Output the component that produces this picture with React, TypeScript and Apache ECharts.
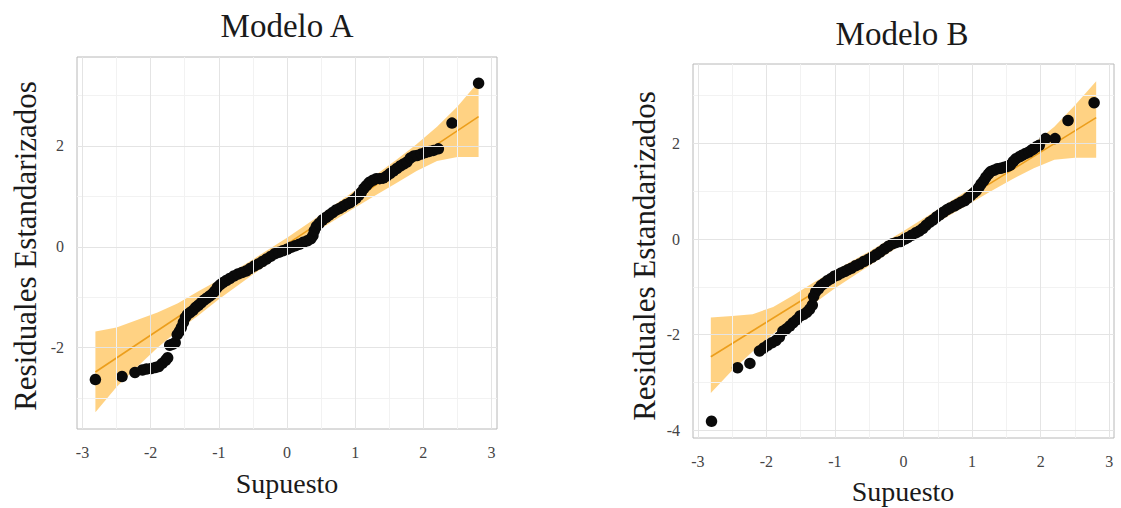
import { useEffect, useRef } from "react";
import * as echarts from "echarts";

// ---------- data ----------
const qqA: number[][] = [
  [-2.81, -2.63], [-2.42, -2.57], [-2.23, -2.49], [-2.12, -2.44], [-2.06, -2.42], [-1.99, -2.41],
  [-1.93, -2.39], [-1.88, -2.37], [-1.83, -2.31], [-1.78, -2.25], [-1.75, -2.2], [-1.72, -1.95],
  [-1.68, -1.93], [-1.64, -1.9], [-1.61, -1.74], [-1.58, -1.68], [-1.55, -1.6], [-1.52, -1.5],
  [-1.49, -1.4], [-1.46, -1.34], [-1.42, -1.3], [-1.38, -1.26], [-1.34, -1.2], [-1.3, -1.16],
  [-1.26, -1.11], [-1.22, -1.06], [-1.18, -1.02], [-1.14, -0.98], [-1.1, -0.94], [-1.06, -0.88],
  [-1.02, -0.8], [-0.98, -0.75], [-0.94, -0.71], [-0.89, -0.67], [-0.84, -0.63], [-0.78, -0.58],
  [-0.72, -0.54], [-0.66, -0.51], [-0.6, -0.48], [-0.54, -0.43], [-0.48, -0.38], [-0.42, -0.34],
  [-0.36, -0.29], [-0.3, -0.24], [-0.24, -0.19], [-0.18, -0.14], [-0.12, -0.11], [-0.06, -0.08],
  [0.0, -0.05], [0.06, -0.01], [0.12, 0.02], [0.18, 0.05], [0.24, 0.09], [0.3, 0.12],
  [0.35, 0.16], [0.38, 0.22], [0.4, 0.32], [0.43, 0.4], [0.47, 0.46], [0.52, 0.53],
  [0.57, 0.58], [0.62, 0.63], [0.67, 0.68], [0.72, 0.73], [0.77, 0.76], [0.82, 0.8],
  [0.87, 0.84], [0.92, 0.87], [0.97, 0.92], [1.01, 0.96], [1.05, 1.02], [1.09, 1.08],
  [1.13, 1.16], [1.17, 1.22], [1.21, 1.28], [1.26, 1.32], [1.31, 1.35], [1.36, 1.35],
  [1.41, 1.36], [1.46, 1.4], [1.51, 1.45], [1.56, 1.5], [1.61, 1.55], [1.66, 1.6],
  [1.71, 1.64], [1.76, 1.68], [1.81, 1.76], [1.86, 1.8], [1.91, 1.81], [1.97, 1.84],
  [2.03, 1.87], [2.09, 1.89], [2.15, 1.91], [2.22, 1.94], [2.42, 2.45], [2.81, 3.24],
];

const qqB: number[][] = [
  [-2.8, -3.81], [-2.42, -2.69], [-2.24, -2.6], [-2.1, -2.34], [-2.04, -2.28], [-1.98, -2.22],
  [-1.92, -2.17], [-1.86, -2.12], [-1.81, -2.05], [-1.76, -1.93], [-1.71, -1.88], [-1.66, -1.82],
  [-1.61, -1.75], [-1.56, -1.69], [-1.51, -1.61], [-1.46, -1.58], [-1.41, -1.53], [-1.37, -1.47],
  [-1.33, -1.38], [-1.31, -1.2], [-1.28, -1.1], [-1.24, -1.04], [-1.2, -0.97], [-1.16, -0.93],
  [-1.11, -0.87], [-1.06, -0.83], [-1.01, -0.78], [-0.96, -0.75], [-0.91, -0.71], [-0.86, -0.68],
  [-0.81, -0.64], [-0.76, -0.61], [-0.7, -0.56], [-0.64, -0.52], [-0.58, -0.47], [-0.52, -0.43],
  [-0.46, -0.38], [-0.4, -0.33], [-0.34, -0.27], [-0.28, -0.21], [-0.22, -0.15], [-0.16, -0.1],
  [-0.1, -0.07], [-0.04, -0.05], [0.02, 0.0], [0.06, 0.03], [0.12, 0.08], [0.18, 0.13],
  [0.23, 0.17], [0.28, 0.22], [0.33, 0.29], [0.38, 0.35], [0.43, 0.4], [0.48, 0.46],
  [0.53, 0.51], [0.58, 0.56], [0.63, 0.61], [0.68, 0.65], [0.74, 0.69], [0.79, 0.73],
  [0.84, 0.77], [0.89, 0.8], [0.94, 0.86], [0.98, 0.91], [1.02, 0.96], [1.06, 1.01],
  [1.1, 1.08], [1.13, 1.15], [1.17, 1.22], [1.2, 1.29], [1.24, 1.36], [1.27, 1.41],
  [1.32, 1.44], [1.37, 1.47], [1.42, 1.48], [1.47, 1.5], [1.52, 1.52], [1.56, 1.55],
  [1.6, 1.62], [1.64, 1.68], [1.69, 1.72], [1.73, 1.75], [1.78, 1.79], [1.83, 1.82],
  [1.87, 1.86], [1.9, 1.89], [1.94, 1.93], [1.98, 1.96], [2.07, 2.1], [2.21, 2.1],
  [2.4, 2.48], [2.78, 2.85],
];

const bandX = [-2.81, -2.5, -2.2, -1.9, -1.6, -1.3, -1.0, -0.5, 0, 0.5, 1.0, 1.3, 1.6, 1.9, 2.2, 2.5, 2.81];
const bandAUpper = [-1.68, -1.6, -1.45, -1.3, -1.12, -0.88, -0.66, -0.25, 0.18, 0.64, 1.12, 1.42, 1.72, 2.03, 2.38, 2.78, 3.27];
const bandALower = [-3.28, -2.78, -2.38, -2.0, -1.66, -1.36, -1.04, -0.55, -0.08, 0.36, 0.78, 1.02, 1.26, 1.5, 1.7, 1.78, 1.78];
const bandBUpper = [-1.64, -1.61, -1.57, -1.42, -1.17, -0.9, -0.66, -0.26, 0.17, 0.62, 1.08, 1.38, 1.68, 2.0, 2.35, 2.8, 3.3];
const bandBLower = [-3.22, -2.75, -2.35, -1.98, -1.64, -1.34, -1.03, -0.56, -0.09, 0.35, 0.77, 1.02, 1.26, 1.48, 1.66, 1.7, 1.7];

const lineA: number[][] = [[-2.81, -2.48], [2.81, 2.58]];
const lineB: number[][] = [[-2.81, -2.46], [2.81, 2.54]];

const xTicks = [-3, -2, -1, 0, 1, 2, 3];
const xMinor = [-2.5, -1.5, -0.5, 0.5, 1.5, 2.5];
const yTicksA = [-2, 0, 2];
const yMinorA = [-3, -1, 1, 3];
const yTicksB = [-4, -2, 0, 2];
const yMinorB = [-3, -1, 1, 3];

const titles = ["Modelo A", "Modelo B"];
const xTitle = "Supuesto";
const yTitle = "Residuales Estandarizados";

// ---------- styles ----------
const FONT = "'Liberation Serif', 'DejaVu Serif', serif";
const BAND_FILL = "rgba(255,183,55,0.62)";
const LINE_COLOR = "#EC9E1C";
const POINT_COLOR = "#0a0a0a";
const MAJOR = "#E4E4E4";
const MINOR = "#F2F2F2";
const BORDER = "#B8B8B8";
const TICKLABEL = "#444444";

function makeAxisX(gridIndex: number, min: number, max: number) {
  return {
    type: "value",
    gridIndex,
    min,
    max,
    axisLine: { show: false },
    axisTick: { show: true, length: 5, customValues: xTicks, lineStyle: { color: BORDER } },
    axisLabel: {
      customValues: xTicks,
      margin: 15,
      color: TICKLABEL,
      fontFamily: FONT,
      fontSize: 16,
      formatter: (v: number) => String(v),
    },
    splitLine: { show: false },
  };
}

function makeAxisY(gridIndex: number, min: number, max: number, ticks: number[]) {
  return {
    type: "value",
    gridIndex,
    min,
    max,
    axisLine: { show: false },
    axisTick: { show: true, length: 5, customValues: ticks, lineStyle: { color: BORDER } },
    axisLabel: {
      customValues: ticks,
      margin: 13,
      color: TICKLABEL,
      fontFamily: FONT,
      fontSize: 16,
      formatter: (v: number) => String(v),
    },
    splitLine: { show: false },
  };
}

function gridSeries(idx: number, yMinor: number[], yMajor: number[]) {
  const minorLines = [...xMinor.map((v) => ({ xAxis: v })), ...yMinor.map((v) => ({ yAxis: v }))];
  const majorLines = [...xTicks.map((v) => ({ xAxis: v })), ...yMajor.map((v) => ({ yAxis: v }))];
  return [
    {
      type: "line",
      xAxisIndex: idx,
      yAxisIndex: idx,
      data: [],
      silent: true,
      z: 0,
      markLine: {
        silent: true,
        symbol: ["none", "none"],
        label: { show: false },
        emphasis: { disabled: true },
        lineStyle: { color: MINOR, width: 1, type: "solid" },
        data: minorLines,
      },
    },
    {
      type: "line",
      xAxisIndex: idx,
      yAxisIndex: idx,
      data: [],
      silent: true,
      z: 0,
      markLine: {
        silent: true,
        symbol: ["none", "none"],
        label: { show: false },
        emphasis: { disabled: true },
        lineStyle: { color: MAJOR, width: 1, type: "solid" },
        data: majorLines,
      },
    },
  ];
}

function bandSeries(idx: number, lower: number[], upper: number[]) {
  return {
    type: "custom",
    xAxisIndex: idx,
    yAxisIndex: idx,
    silent: true,
    z: 1,
    data: bandX.map((x, i) => [x, lower[i], upper[i]]),
    encode: { x: 0, y: [1, 2] },
    renderItem: (params: any, api: any) => {
      if (params.dataIndex !== 0) return { type: "group", children: [] };
      const pts: number[][] = [];
      for (let i = 0; i < bandX.length; i++) pts.push(api.coord([bandX[i], upper[i]]));
      for (let i = bandX.length - 1; i >= 0; i--) pts.push(api.coord([bandX[i], lower[i]]));
      return { type: "polygon", shape: { points: pts }, style: { fill: BAND_FILL } };
    },
  };
}

function lineSeries(idx: number, data: number[][]) {
  return {
    type: "line",
    xAxisIndex: idx,
    yAxisIndex: idx,
    data,
    symbol: "none",
    silent: true,
    z: 2,
    lineStyle: { color: LINE_COLOR, width: 1.6 },
  };
}

function pointSeries(idx: number, data: number[][]) {
  return {
    type: "scatter",
    xAxisIndex: idx,
    yAxisIndex: idx,
    data,
    symbol: "circle",
    symbolSize: 11.5,
    silent: true,
    z: 3,
    itemStyle: { color: POINT_COLOR, opacity: 1 },
  };
}

function textEl(text: string, x: number, y: number, size: number, rotate = 0) {
  return {
    type: "text",
    x,
    y,
    rotation: rotate,
    silent: true,
    style: {
      text,
      fill: "#1A1A1A",
      font: `${size}px ${FONT}`,
      align: "center",
      verticalAlign: "middle",
    },
  };
}

export default function App() {
  const ref = useRef<HTMLDivElement>(null);

  useEffect(() => {
    if (!ref.current) return;
    const chart = echarts.init(ref.current, undefined, { renderer: "svg" });
    const option: any = {
      animation: false,
      backgroundColor: "#ffffff",
      grid: [
        { left: 77, top: 57, width: 420, height: 372, show: true, borderColor: BORDER, borderWidth: 1, backgroundColor: "transparent" },
        { left: 693, top: 64, width: 421, height: 374, show: true, borderColor: BORDER, borderWidth: 1, backgroundColor: "transparent" },
      ],
      xAxis: [makeAxisX(0, -3.08, 3.08), makeAxisX(1, -3.07, 3.07)],
      yAxis: [makeAxisY(0, -3.61, 3.76, yTicksA), makeAxisY(1, -4.16, 3.66, yTicksB)],
      series: [
        ...gridSeries(0, yMinorA, yTicksA),
        ...gridSeries(1, yMinorB, yTicksB),
        bandSeries(0, bandALower, bandAUpper),
        bandSeries(1, bandBLower, bandBUpper),
        lineSeries(0, lineA),
        lineSeries(1, lineB),
        pointSeries(0, qqA),
        pointSeries(1, qqB),
      ],
      graphic: [
        textEl(titles[0], 287, 26, 33),
        textEl(titles[1], 902, 34, 33),
        textEl(xTitle, 287, 483, 28),
        textEl(xTitle, 903, 491, 28),
        textEl(yTitle, 25, 246, 31, Math.PI / 2),
        textEl(yTitle, 644, 256, 31, Math.PI / 2),
      ],
    };
    chart.setOption(option);
    return () => chart.dispose();
  }, []);

  return (
    <div
      ref={ref}
      style={{ position: "absolute", left: 0, top: 0, width: 1121, height: 508, background: "#fff" }}
    />
  );
}
